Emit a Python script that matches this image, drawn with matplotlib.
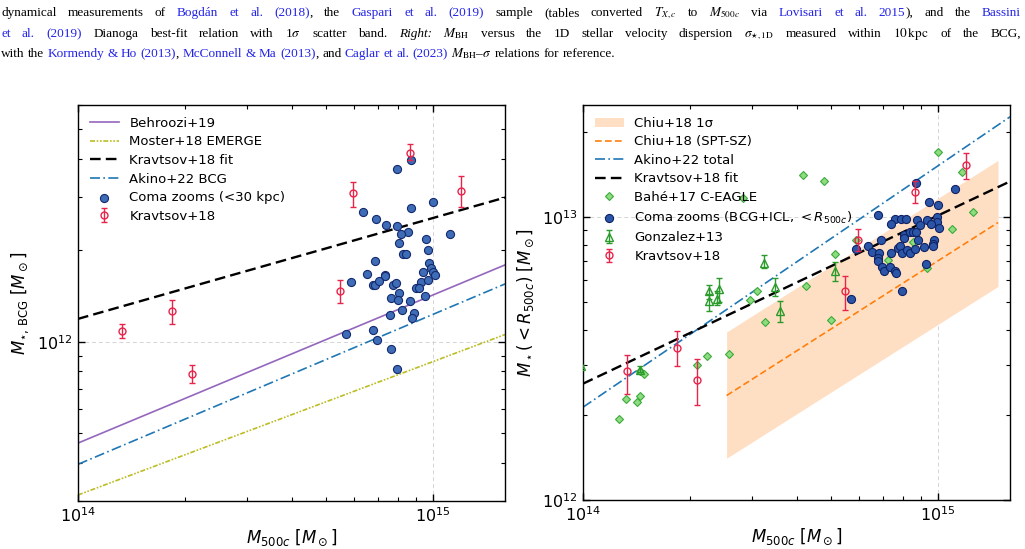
import matplotlib
matplotlib.use("Agg")
import matplotlib.pyplot as plt
from matplotlib.transforms import IdentityTransform
from matplotlib.ticker import NullFormatter

# ---------------- data (M500c in 1e14 Msun, stellar masses in 1e12 Msun) ----------------
m_line = [1.0, 16.0]
behroozi = [0.465, 1.79]
moster = [0.314, 1.057]
kravtsov_fit_bcg = [1.19, 2.98]
akino_bcg = [0.396, 1.55]

coma_bcg_m500 = [7.95, 8.69, 10.04, 8.71, 6.37, 6.92, 7.40, 7.93, 8.54, 8.12,
                 11.22, 9.60, 8.05, 9.70, 8.23, 8.43, 6.89, 9.79, 9.91, 9.37,
                 10.0, 10.18, 6.53, 7.35, 7.32, 5.88, 6.81, 6.87, 7.07, 7.73,
                 7.86, 9.26, 9.70, 8.95, 9.15, 8.04, 7.61, 7.99, 8.65, 9.54,
                 8.19, 7.60, 8.84, 8.76, 6.79, 5.68, 6.98, 7.63, 7.93]
coma_bcg_mstar = [3.69, 3.95, 2.88, 2.76, 2.67, 2.53, 2.43, 2.41, 2.30, 2.26,
                  2.27, 2.17, 2.11, 2.00, 1.95, 1.94, 1.84, 1.81, 1.75, 1.70,
                  1.70, 1.66, 1.67, 1.66, 1.64, 1.57, 1.54, 1.54, 1.58, 1.54,
                  1.56, 1.57, 1.60, 1.50, 1.50, 1.445, 1.39, 1.37, 1.36, 1.41,
                  1.276, 1.23, 1.24, 1.195, 1.093, 1.06, 1.018, 0.948, 0.812]

k18_m500 = [1.33, 1.84, 2.09, 5.47, 5.98, 8.65, 12.0]
k18_bcg = [1.087, 1.259, 0.786, 1.47, 3.08, 4.16, 3.13]
k18_bcg_lo = [1.026, 1.147, 0.734, 1.34, 2.77, 3.95, 2.77]
k18_bcg_hi = [1.146, 1.37, 0.838, 1.60, 3.36, 4.47, 3.50]
k18_tot = [2.85, 3.46, 2.66, 5.47, 8.32, 12.33, 15.33]
k18_tot_lo = [2.38, 2.98, 2.17, 4.70, 7.58, 11.27, 13.71]
k18_tot_hi = [3.26, 3.95, 3.15, 6.22, 9.10, 13.49, 16.95]

chiu_m500 = [2.54, 14.8]
chiu_lo = [1.405, 5.70]
chiu_hi = [3.93, 15.92]
chiu_mid = [2.342, 9.59]
akino_total = [2.13, 22.7]
kravtsov_fit_tot = [2.58, 13.41]

coma_tot_m500 = [8.69, 11.17, 9.48, 10.0, 6.79, 7.59, 7.88, 8.13, 7.39, 8.74,
                 9.35, 9.99, 9.94, 9.57, 10.12, 8.93, 8.02, 8.02, 8.36, 8.54,
                 8.70, 8.80, 9.75, 9.70, 9.68, 6.91, 6.37, 5.87, 6.51, 6.84,
                 6.81, 6.79, 7.39, 7.72, 7.84, 7.94, 8.19, 8.38, 8.64, 9.14,
                 6.97, 7.06, 7.35, 7.60, 7.63, 9.26, 7.91, 5.69]
coma_tot_mstar = [13.22, 12.60, 11.32, 11.09, 10.22, 9.91, 9.88, 9.88, 9.48, 9.79,
                  9.79, 10.0, 9.63, 9.45, 9.17, 9.42, 8.68, 8.44, 8.86, 8.90,
                  8.88, 8.30, 8.32, 8.04, 7.92, 8.30, 7.92, 7.73, 7.54, 7.50,
                  7.17, 7.03, 7.47, 7.82, 7.92, 7.50, 7.65, 7.49, 7.71, 7.84,
                  6.70, 6.45, 6.70, 6.44, 6.37, 6.85, 5.51, 5.16]

bahe_m500 = [1.263, 1.324, 1.416, 1.45, 1.45, 1.481, 2.09, 2.24, 2.58, 2.82,
             2.96, 3.10, 3.25, 4.17, 4.26, 4.78, 5.01, 5.14, 5.89, 7.26,
             8.50, 9.33, 10.0, 10.97, 11.75, 12.6]
bahe_mstar = [1.94, 2.28, 2.23, 2.33, 2.85, 2.80, 3.01, 3.22, 3.29, 11.71,
              5.11, 5.49, 4.25, 14.13, 5.74, 13.49, 4.34, 7.41, 8.30, 7.08,
              8.16, 6.61, 17.0, 9.12, 14.43, 10.45]

gonz_m500 = [0.985, 1.45, 2.264, 2.264, 2.385, 2.416, 3.24, 3.47, 3.60, 5.14]
gonz_mstar = [2.97, 2.88, 5.47, 5.08, 5.15, 5.58, 6.91, 5.65, 4.65, 6.44]
gonz_lo = [2.93, 2.84, 5.15, 4.67, 4.91, 5.02, 6.62, 5.28, 4.25, 5.97]
gonz_hi = [3.01, 2.97, 5.78, 5.37, 5.47, 6.10, 7.38, 6.10, 5.08, 6.98]

# ---------------- caption ----------------
K, B = "black", "#2323e8"
caption = [
    ([("dynamical measurements of ", K, "normal"), ("Bogdán et al. (2018)", B, "normal"),
      (", the ", K, "normal"), ("Gaspari et al. (2019)", B, "normal"),
      (" sample (tables converted $T_{X,c}$ to $M_{500c}$ via ", K, "normal"),
      ("Lovisari et al. 2015", B, "normal"), ("), and the ", K, "normal"), ("Bassini", B, "normal")], True),
    ([("et al. (2019)", B, "normal"),
      (" Dianoga best-fit relation with 1$\\sigma$ scatter band. ", K, "normal"),
      ("Right:", K, "italic"),
      (" $M_{\\mathrm{BH}}$ versus the 1D stellar velocity dispersion $\\sigma_{\\star,\\mathrm{1D}}$ "
       "measured within $10\\,\\mathrm{kpc}$ of the BCG,", K, "normal")], True),
    ([("with the ", K, "normal"), ("Kormendy & Ho (2013)", B, "normal"), (", ", K, "normal"),
      ("McConnell & Ma (2013)", B, "normal"), (", and ", K, "normal"),
      ("Caglar et al. (2023)", B, "normal"),
      (" $M_{\\mathrm{BH}}$–$\\sigma$ relations for reference.", K, "normal")], False),
]

fig = plt.figure(figsize=(10.25, 5.49), dpi=100)
renderer = fig.canvas.get_renderer()


def write_line(y, segments, justify, size=9.5, x0=1.0, x1=1021.0):
    words = [[]]
    for text, color, style in segments:
        for i, part in enumerate(text.split(" ")):
            if i > 0:
                words.append([])
            if part:
                words[-1].append((part, color, style))
    words = [w for w in words if w]
    placed, widths = [], []
    for w in words:
        items, total = [], 0.0
        for part, color, style in w:
            t = fig.text(0, 0, part, color=color, fontstyle=style, family="Liberation Serif",
                         size=size, math_fontfamily="stix", transform=IdentityTransform(),
                         va="baseline")
            wd = t.get_window_extent(renderer).width
            items.append((t, wd))
            total += wd
        placed.append(items)
        widths.append(total)
    gap = (x1 - x0 - sum(widths)) / (len(words) - 1) if justify else 0.25 * size * fig.dpi / 72
    x = x0
    for items in placed:
        for t, wd in items:
            t.set_position((x, y))
            x += wd
        x += gap


for (segs, just), yb in zip(caption, [533, 512, 492]):
    write_line(yb, segs, just)

# ---------------- axes ----------------
ax1 = fig.add_axes([0.0761, 0.0874, 0.4166, 0.7213])
ax2 = fig.add_axes([0.5688, 0.0893, 0.4166, 0.7195])

E14, E12 = 1e14, 1e12


def scale(v, f):
    return [a * f for a in v]


def style(ax):
    ax.set_xscale("log")
    ax.set_yscale("log")
    ax.tick_params(which="both", direction="in", top=True, right=True, labelsize=11.5, pad=4)
    ax.tick_params(which="major", length=5, width=1)
    ax.tick_params(which="minor", length=3, width=0.8)
    ax.xaxis.set_minor_formatter(NullFormatter())
    ax.yaxis.set_minor_formatter(NullFormatter())
    ax.grid(True, which="major", color="#d4d4d4", ls=(0, (4, 3)), lw=0.7)
    ax.set_axisbelow(True)
    for s in ax.spines.values():
        s.set_linewidth(1.0)
    ax.set_xlabel(r"$M_{500c}$ [$M_\odot$]", fontsize=12, labelpad=2)


RED = "#e8244a"
GREEN = "#2a9a2a"

# left panel
x = scale(m_line, E14)
l1, = ax1.plot(x, scale(behroozi, E12), color="#9467bd", lw=1.2, label="Behroozi+19")
l2, = ax1.plot(x, scale(moster, E12), color="#bcbd22", lw=1.2, ls=(0, (3, 1, 1, 1, 1, 1)),
               label="Moster+18 EMERGE")
l3, = ax1.plot(x, scale(kravtsov_fit_bcg, E12), color="black", lw=1.7, ls=(0, (4.5, 2.2)),
               label="Kravtsov+18 fit")
l4, = ax1.plot(x, scale(akino_bcg, E12), color="#1f77b4", lw=1.2, ls=(0, (6, 2, 1, 2)),
               label="Akino+22 BCG")
s1 = ax1.scatter(scale(coma_bcg_m500, E14), scale(coma_bcg_mstar, E12), s=34,
                 facecolor="#3e6cb6", edgecolor="#142a6e", lw=0.8, zorder=4,
                 label="Coma zooms (<30 kpc)")
yerr = [[(m - lo) * E12 for m, lo in zip(k18_bcg, k18_bcg_lo)],
        [(hi - m) * E12 for m, hi in zip(k18_bcg, k18_bcg_hi)]]
e1 = ax1.errorbar(scale(k18_m500, E14), scale(k18_bcg, E12), yerr=yerr, fmt="o", ms=5,
                  mfc="none", mec=RED, mew=1.0, color=RED, elinewidth=1.0, capsize=2,
                  zorder=5, label="Kravtsov+18")
style(ax1)
ax1.set_xlim(1e14, 1.6e15)
ax1.set_ylim(3e11, 6e12)
ax1.set_ylabel(r"$M_{\star,\,\mathrm{BCG}}$ [$M_\odot$]", fontsize=12)
ax1.legend(handles=[l1, l2, l3, l4, s1, e1], loc="upper left", frameon=False, fontsize=9.5,
           labelspacing=0.42, handlelength=2.2, borderaxespad=0.5)

# right panel
xc = scale(chiu_m500, E14)
band = ax2.fill_between(xc, scale(chiu_lo, E12), scale(chiu_hi, E12), color="#ffdfc3",
                        lw=0, label="Chiu+18 1σ")
r1, = ax2.plot(xc, scale(chiu_mid, E12), color="#ff7f0e", lw=1.2, ls=(0, (4, 2)),
               label="Chiu+18 (SPT-SZ)")
r2, = ax2.plot(x, scale(akino_total, E12), color="#1f77b4", lw=1.2, ls=(0, (6, 2, 1, 2)),
               label="Akino+22 total")
r3, = ax2.plot(x, scale(kravtsov_fit_tot, E12), color="black", lw=1.7, ls=(0, (4.5, 2.2)),
               label="Kravtsov+18 fit")
r4, = ax2.plot(scale(bahe_m500, E14), scale(bahe_mstar, E12), "D", ms=4.5, mfc="#8fdc80",
               mec="#3caa3c", mew=0.8, ls="none", zorder=3, label="Bahé+17 C-EAGLE")
s2 = ax2.scatter(scale(coma_tot_m500, E14), scale(coma_tot_mstar, E12), s=34,
                 facecolor="#2b56a8", edgecolor="#0f2266", lw=0.8, zorder=4,
                 label=r"Coma zooms (BCG+ICL, $<R_{500c}$)")
gerr = [[(m - lo) * E12 for m, lo in zip(gonz_mstar, gonz_lo)],
        [(hi - m) * E12 for m, hi in zip(gonz_mstar, gonz_hi)]]
g1 = ax2.errorbar(scale(gonz_m500, E14), scale(gonz_mstar, E12), yerr=gerr, fmt="^", ms=6,
                  mfc="none", mec=GREEN, mew=1.0, color=GREEN, elinewidth=1.0, capsize=2,
                  zorder=5, label="Gonzalez+13")
yerr = [[(m - lo) * E12 for m, lo in zip(k18_tot, k18_tot_lo)],
        [(hi - m) * E12 for m, hi in zip(k18_tot, k18_tot_hi)]]
e2 = ax2.errorbar(scale(k18_m500, E14), scale(k18_tot, E12), yerr=yerr, fmt="o", ms=5,
                  mfc="none", mec=RED, mew=1.0, color=RED, elinewidth=1.0, capsize=2,
                  zorder=5, label="Kravtsov+18")
style(ax2)
ax2.set_xlim(1e14, 1.6e15)
ax2.set_ylim(1e12, 2.5e13)
ax2.set_ylabel(r"$M_\star(<R_{500c})$ [$M_\odot$]", fontsize=12)
ax2.legend(handles=[band, r1, r2, r3, r4, s2, g1, e2], loc="upper left", frameon=False,
           fontsize=9.5, labelspacing=0.42, handlelength=2.2, borderaxespad=0.5)

fig.savefig("out.png", dpi=100)
